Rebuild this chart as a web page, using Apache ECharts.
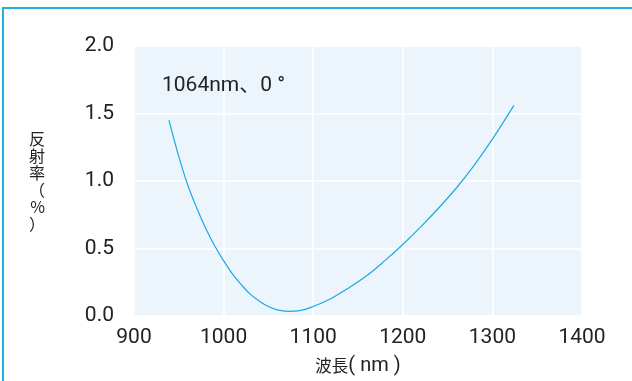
<!DOCTYPE html>
<html>
<head>
<meta charset="utf-8">
<script src="https://cdn.jsdelivr.net/npm/echarts@6/dist/echarts.min.js"></script>
<style>
  html, body { margin: 0; padding: 0; background: #fff; }
  #wrap { position: relative; width: 632px; height: 381px; overflow: hidden; }
  #frame { position: absolute; left: 2px; top: 7px; right: -4px; bottom: -4px;
           border-top: 2px solid #1fb0e6; border-left: 2px solid #1fb0e6; }
  #chart { position: absolute; left: 0; top: 0; width: 632px; height: 381px; }
</style>
</head>
<body>
<div id="wrap">
  <div id="frame"></div>
  <div id="chart"></div>
</div>
<script>
// Reflectance curve of the coating (wavelength nm -> reflectance %)
const wavelengths = [939, 945, 950, 960, 970, 980, 990, 1000, 1010, 1020, 1030, 1040, 1050, 1060, 1072,
                     1085, 1100, 1120, 1140, 1160, 1180, 1200, 1220, 1240, 1260, 1280, 1300, 1324];
const reflectance = [1.45, 1.30, 1.18, 0.97, 0.80, 0.65, 0.52, 0.41, 0.31, 0.23, 0.16, 0.11, 0.07, 0.045, 0.035,
                     0.04, 0.07, 0.13, 0.21, 0.30, 0.41, 0.53, 0.66, 0.80, 0.95, 1.12, 1.31, 1.56];
const xTicks = [900, 1000, 1100, 1200, 1300, 1400];
const yTicks = [0, 0.5, 1.0, 1.5, 2.0];
const noteText = '1064nm、0 °';

const numFont = 'Roboto, "Noto Sans CJK JP", sans-serif';
const cjkFont = '"Noto Sans CJK JP", sans-serif';
const textColor = '#222222';
const chart = echarts.init(document.getElementById('chart'), null, { renderer: 'canvas' });

chart.setOption({
  animation: false,
  textStyle: { fontFamily: numFont },
  grid: {
    left: 134, right: 50, top: 46, bottom: 65,
    show: true, backgroundColor: '#edf5fc', borderWidth: 0
  },
  title: {
    text: noteText,
    left: 157, top: 70,
    textStyle: { fontSize: 21, fontWeight: 'normal', color: textColor, fontFamily: numFont }
  },
  xAxis: {
    type: 'value',
    min: xTicks[0], max: xTicks[xTicks.length - 1], interval: 100,
    name: '{c|波長}{l|( nm )}', nameLocation: 'middle', nameGap: 40,
    nameTextStyle: {
      color: textColor,
      rich: {
        c: { fontSize: 16.5, fontFamily: cjkFont, color: textColor },
        l: { fontSize: 20, fontFamily: numFont, color: textColor }
      }
    },
    axisLine: { show: false }, axisTick: { show: false },
    axisLabel: { fontSize: 21, color: textColor, margin: 11, formatter: v => String(v) },
    splitLine: { show: true, lineStyle: { color: '#ffffff', width: 1.5 } }
  },
  yAxis: {
    type: 'value',
    min: yTicks[0], max: yTicks[yTicks.length - 1], interval: 0.5,
    name: '反\n射\n率\n（\n%\n）', nameLocation: 'middle', nameGap: 89, nameRotate: 0,
    nameTextStyle: { fontSize: 16, color: textColor, lineHeight: 17, fontFamily: cjkFont,
                     padding: [0, 0, 10, 0] },
    axisLine: { show: false }, axisTick: { show: false },
    axisLabel: { fontSize: 21, color: textColor, margin: 20,
                 formatter: v => v.toFixed(1) },
    splitLine: { show: true, lineStyle: { color: '#ffffff', width: 1.5 } }
  },
  series: [{
    type: 'line',
    data: wavelengths.map((w, i) => [w, reflectance[i]]),
    smooth: 0.4,
    showSymbol: false,
    lineStyle: { color: '#1ea7e6', width: 1.2 }
  }]
});
</script>
</body>
</html>
